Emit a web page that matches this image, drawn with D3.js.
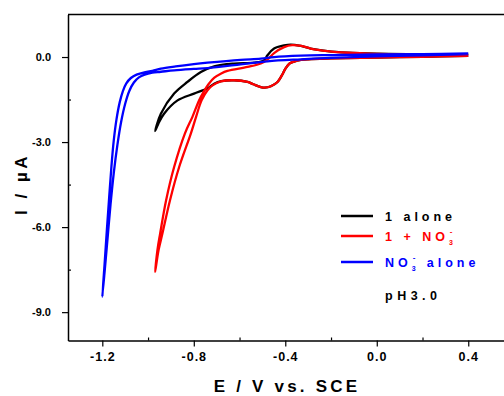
<!DOCTYPE html>
<html>
<head>
<meta charset="utf-8">
<script src="https://cdn.jsdelivr.net/npm/d3@7"></script>
<style>
  body { margin: 0; background: #fff; }
  svg { display: block; font-family: "Liberation Sans", Arial, sans-serif; font-weight: bold; }
</style>
</head>
<body>
<div id="chart"></div>
<script>

// cyclic voltammograms, [E (V vs SCE), I (uA)], each one a closed loop
var aloneLoop = [
    [0.4, 0.04], [0.2, 0.01], [0.0, -0.02], [-0.2, -0.05], [-0.3, -0.08], [-0.35, -0.13],
    [-0.38, -0.22], [-0.40, -0.42], [-0.415, -0.65], [-0.434, -0.88], [-0.463, -1.03],
    [-0.49, -1.08], [-0.507, -1.06], [-0.54, -0.96], [-0.565, -0.88], [-0.624, -0.82],
    [-0.68, -0.85], [-0.711, -0.94], [-0.74, -1.1], [-0.799, -1.29], [-0.871, -1.53],
    [-0.93, -2.0], [-0.955, -2.35], [-0.969, -2.61],
    [-0.944, -2.0], [-0.886, -1.29], [-0.828, -0.88], [-0.769, -0.53], [-0.711, -0.33],
    [-0.624, -0.23], [-0.536, -0.2], [-0.493, -0.12], [-0.478, 0.06], [-0.449, 0.3],
    [-0.405, 0.41], [-0.376, 0.44], [-0.332, 0.39], [-0.289, 0.3], [-0.216, 0.21],
    [-0.128, 0.155], [0.0, 0.12], [0.2, 0.1], [0.4, 0.08]
];

var plusLoop = [
    [0.4, 0.04], [0.2, 0.01], [0.0, -0.02], [-0.2, -0.05], [-0.3, -0.08], [-0.35, -0.13],
    [-0.38, -0.22], [-0.40, -0.42], [-0.415, -0.65], [-0.434, -0.88], [-0.463, -1.03],
    [-0.49, -1.08], [-0.507, -1.06], [-0.54, -0.96], [-0.565, -0.88], [-0.624, -0.82],
    [-0.682, -0.86], [-0.718, -1.0], [-0.74, -1.17], [-0.766, -1.53], [-0.79, -2.11],
    [-0.813, -2.7], [-0.864, -3.88], [-0.904, -5.05], [-0.937, -6.22], [-0.954, -6.81],
    [-0.969, -7.58],
    [-0.959, -6.81], [-0.947, -6.22], [-0.921, -5.05], [-0.886, -3.88], [-0.839, -2.7],
    [-0.806, -2.11], [-0.777, -1.53], [-0.755, -1.2], [-0.735, -0.95], [-0.71, -0.73],
    [-0.68, -0.58], [-0.653, -0.49], [-0.565, -0.35], [-0.507, -0.23], [-0.478, -0.09],
    [-0.449, 0.14], [-0.405, 0.35], [-0.37, 0.42], [-0.33, 0.39], [-0.289, 0.3],
    [-0.216, 0.21], [-0.128, 0.15], [0.0, 0.11], [0.2, 0.09], [0.4, 0.07]
];

var nitrateLoop = [
    [0.4, 0.1], [0.2, 0.06], [0.0, 0.02], [-0.2, -0.03], [-0.332, -0.08], [-0.478, -0.15],
    [-0.595, -0.26], [-0.74, -0.39], [-0.8, -0.42], [-0.886, -0.47], [-0.944, -0.52],
    [-0.981, -0.55], [-1.015, -0.62], [-1.04, -0.72], [-1.062, -0.9], [-1.082, -1.2],
    [-1.1, -1.65], [-1.118, -2.3], [-1.134, -3.1], [-1.15, -4.1], [-1.164, -5.2],
    [-1.176, -6.3], [-1.188, -7.4], [-1.2, -8.46],
    [-1.19, -7.3], [-1.18, -6.1], [-1.17, -4.95], [-1.16, -3.85], [-1.15, -2.95],
    [-1.138, -2.2], [-1.124, -1.6], [-1.11, -1.2], [-1.095, -0.93], [-1.075, -0.74],
    [-1.05, -0.62], [-1.02, -0.55], [-0.981, -0.49], [-0.944, -0.41], [-0.879, -0.33],
    [-0.8, -0.25], [-0.74, -0.2], [-0.595, -0.1], [-0.507, -0.06], [-0.449, 0.0],
    [-0.332, 0.05], [-0.2, 0.07], [0.0, 0.09], [0.2, 0.1], [0.4, 0.13]
];

var seriesNames = ["1 alone", "1 + NO3-", "NO3- alone"];
var seriesColors = ["#000000", "#ff0000", "#0000ff"];

var xMajor = [-1.2, -0.8, -0.4, 0.0, 0.4];
var xMajorLabels = ["-1.2", "-0.8", "-0.4", "0.0", "0.4"];
var xMinor = [-1.0, -0.6, -0.2, 0.2];
var yMajor = [0, -3, -6, -9];
var yMajorLabels = ["0.0", "-3.0", "-6.0", "-9.0"];
var yMinor = [-1.5, -4.5, -7.5];

var width = 504, height = 396;

var svg = d3.select("#chart").append("svg")
    .attr("width", width)
    .attr("height", height);

var x = d3.scaleLinear().domain([-1.35, 0.6]).range([68, 514]);
var y = d3.scaleLinear().domain([-10, 1.5]).range([340.5, 14.5]);

// frame (top edge; right edge runs off the picture)
svg.append("line")
    .attr("x1", x(-1.35)).attr("x2", x(0.6))
    .attr("y1", y(1.5)).attr("y2", y(1.5))
    .attr("stroke", "#000").attr("stroke-width", 1.5);

// x axis: major ticks outward, minor ticks inward
var xAxis = svg.append("g")
    .attr("transform", "translate(0," + y(-10) + ")")
    .call(d3.axisBottom(x).tickValues(xMajor).tickSize(6).tickSizeOuter(0)
        .tickFormat(function(d, i) { return xMajorLabels[i]; }));
xAxis.select(".domain").attr("stroke-width", 1.5);
xAxis.selectAll(".tick line").attr("stroke-width", 1.2);
xAxis.selectAll(".tick text")
    .attr("y", 12)
    .style("font-size", "12.5px").style("font-weight", "bold")
    .style("letter-spacing", "1px").attr("fill", "#000");

svg.append("g")
    .attr("transform", "translate(0," + y(-10) + ")")
    .call(d3.axisBottom(x).tickValues(xMinor).tickSize(-3).tickFormat(""))
    .call(function(g) { g.select(".domain").remove(); })
    .selectAll(".tick line").attr("stroke-width", 1.2);

var yAxis = svg.append("g")
    .attr("transform", "translate(" + x(-1.35) + ",0)")
    .call(d3.axisLeft(y).tickValues(yMajor).tickSize(6).tickSizeOuter(0)
        .tickFormat(function(d, i) { return yMajorLabels[i]; }));
yAxis.select(".domain").attr("stroke-width", 1.5);
yAxis.selectAll(".tick line").attr("stroke-width", 1.2);
yAxis.selectAll(".tick text")
    .attr("x", -17)
    .style("font-size", "11px").style("font-weight", "bold").attr("fill", "#000");

svg.append("g")
    .attr("transform", "translate(" + x(-1.35) + ",0)")
    .call(d3.axisLeft(y).tickValues(yMinor).tickSize(-3).tickFormat(""))
    .call(function(g) { g.select(".domain").remove(); })
    .selectAll(".tick line").attr("stroke-width", 1.2);

// axis titles
svg.append("text")
    .attr("x", 287).attr("y", 392)
    .attr("text-anchor", "middle")
    .style("font-size", "17px").style("letter-spacing", "3.2px")
    .text("E / V vs. SCE");

svg.append("text")
    .attr("transform", "translate(27,184) rotate(-90)")
    .attr("text-anchor", "middle")
    .style("font-size", "17px").style("letter-spacing", "3.5px")
    .text("I / µA");

// curves
var line = d3.line()
    .x(function(d) { return x(d[0]); })
    .y(function(d) { return y(d[1]); })
    .curve(d3.curveCatmullRom.alpha(0.5));

var loops = [aloneLoop, plusLoop, nitrateLoop];

svg.append("g")
    .selectAll("path")
    .data(loops)
    .enter().append("path")
    .attr("d", line)
    .attr("fill", "none")
    .attr("stroke", function(d, i) { return seriesColors[i]; })
    .attr("stroke-width", 2.3)
    .attr("stroke-linejoin", "round");

// legend
var legY = [216, 236, 262];
var leg = svg.append("g");
seriesNames.forEach(function(name, i) {
    leg.append("line")
        .attr("x1", 341).attr("x2", 373)
        .attr("y1", legY[i]).attr("y2", legY[i])
        .attr("stroke", seriesColors[i]).attr("stroke-width", 2.5);

    var t = leg.append("text")
        .attr("x", 385).attr("y", legY[i] + 5)
        .attr("fill", seriesColors[i])
        .style("font-size", "12.5px").style("letter-spacing", "4px");

    if (i == 0) {
        t.text(name);
    } else if (i == 1) {
        t.append("tspan").text("1 + NO");
        t.append("tspan").attr("dy", 4).style("font-size", "7px").style("letter-spacing", "0px").text("3");
        t.append("tspan").attr("dx", -3).attr("dy", -11).style("font-size", "8px").text("-");
    } else {
        t.append("tspan").text("NO");
        t.append("tspan").attr("dy", 4).style("font-size", "7px").style("letter-spacing", "0px").text("3");
        t.append("tspan").attr("dx", -3).attr("dy", -11).style("font-size", "8px").text("-");
        t.append("tspan").attr("dy", 7).text(" alone");
    }
});

leg.append("text")
    .attr("x", 385).attr("y", 300)
    .style("font-size", "12.5px").style("letter-spacing", "4.5px")
    .text("pH3.0");

</script>
</body>
</html>
